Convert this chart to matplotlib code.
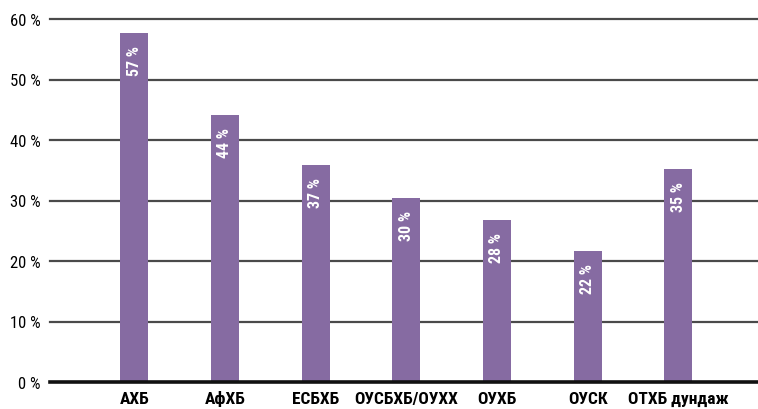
import matplotlib
matplotlib.use("Agg")
import matplotlib.pyplot as plt

categories = ["АХБ", "АфХБ", "ЕСБХБ", "ОУСБХБ/ОУХХ", "ОУХБ", "ОУСК", "ОТХБ дундаж"]
heights = [57.7, 44.1, 35.9, 30.4, 26.8, 21.7, 35.2]
labels = ["57 %", "44 %", "37 %", "30 %", "28 %", "22 %", "35 %"]
yticks = [0, 10, 20, 30, 40, 50, 60]
ytick_labels = ["0 %", "10 %", "20 %", "30 %", "40 %", "50 %", "60 %"]

plt.rcParams['font.family'] = ['Roboto Condensed', 'DejaVu Sans']

fig = plt.figure(figsize=(7.58, 4.10), dpi=100)
ax = fig.add_axes([50 / 758, 27 / 410, 708 / 758, 363 / 410])

x = list(range(len(categories)))
for v in yticks[1:]:
    ax.axhline(v, color="#4a4a4a", lw=1.6, zorder=1, clip_on=False)
ax.bar(x, heights, width=0.31, color="#866ba2", zorder=2)

for xi, h, lab in zip(x, heights, labels):
    ax.text(xi, h - 2.0, lab, rotation=90, ha="center", va="top",
            color="white", fontsize=11.5, fontweight="bold", zorder=3)

ax.set_xlim(-0.93, 6.88)
ax.set_ylim(0, 60)
ax.set_yticks(yticks)
ax.set_yticklabels(ytick_labels, fontsize=12)
ax.set_xticks(x)
ax.set_xticklabels(categories, fontsize=12.5, fontweight="bold", va="baseline")
ax.tick_params(axis="both", length=0)
ax.tick_params(axis="y", pad=7)
ax.tick_params(axis="x", pad=15)
for s in ["top", "right", "left"]:
    ax.spines[s].set_visible(False)
ax.spines["bottom"].set_linewidth(2.6)
ax.spines["bottom"].set_color("#111111")
ax.spines["bottom"].set_zorder(4)

fig.savefig("out.png", dpi=100)
